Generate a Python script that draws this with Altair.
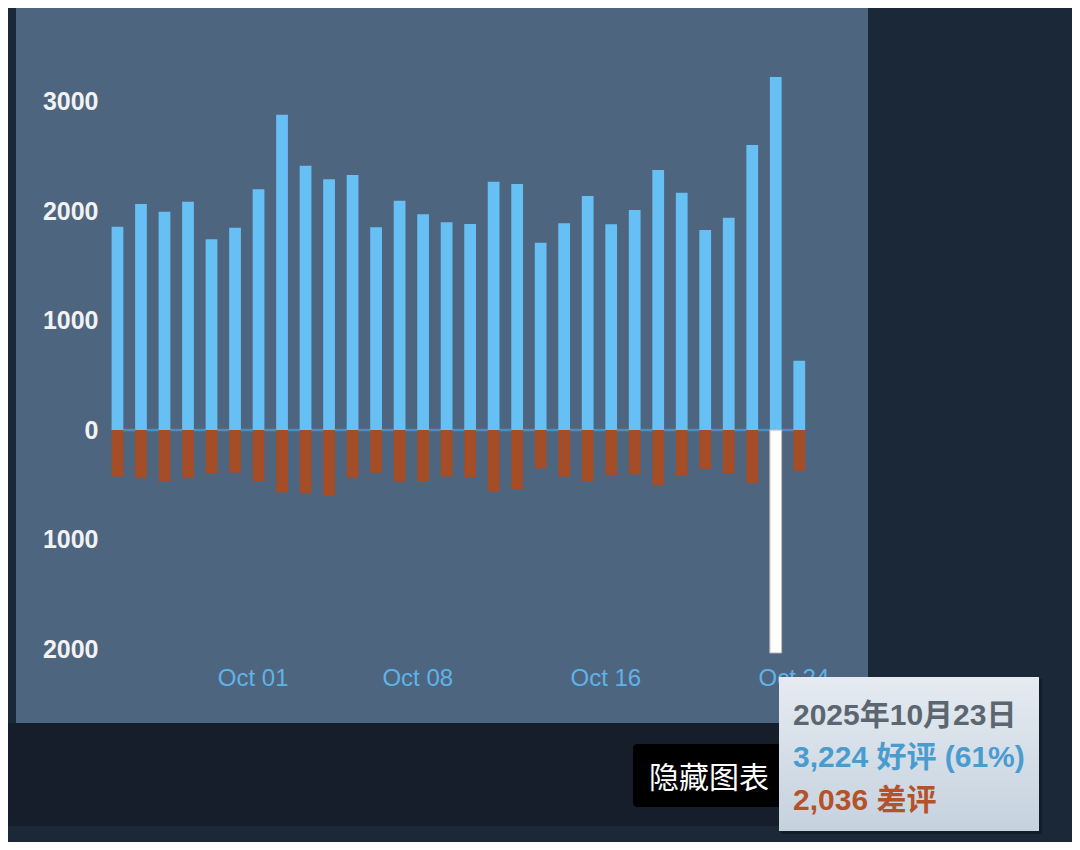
import altair as alt
import pandas as pd
from datetime import datetime, timezone, timedelta

# ---------------- data ----------------
dates = [f"2025-09-{d:02d}" for d in range(25, 31)] + [f"2025-10-{d:02d}" for d in range(1, 25)]
positive = [1857, 2064, 1994, 2085, 1741, 1848, 2198, 2880, 2414, 2289,
            2329, 1851, 2094, 1970, 1897, 1881, 2268, 2247, 1711, 1887,
            2137, 1878, 2009, 2374, 2167, 1826, 1939, 2603, 3224, 633]
negative = [426, 435, 466, 435, 396, 390, 466, 569, 578, 603,
            435, 390, 472, 475, 426, 432, 563, 539, 350, 426,
            466, 411, 405, 505, 411, 356, 396, 487, 2036, 371]
highlight_date = "2025-10-23"
tick_dates = ["2025-10-01", "2025-10-08", "2025-10-16", "2025-10-24"]
y_ticks = [-2000, -1000, 0, 1000, 2000, 3000]
tooltip_lines = ["2025年10月23日", "3,224 好评 (61%)", "2,036 差评"]
button_label = "隐藏图表"

# ---------------- table ----------------
rows = []
for d, p, n in zip(dates, positive, negative):
    s = f"{d}T00:00:00Z"
    e = f"{d}T12:00:00Z"
    rows.append({"start": s, "end": e, "value": p, "kind": "pos"})
    rows.append({"start": s, "end": e, "value": -n,
                 "kind": "hl" if d == highlight_date else "neg"})
df = pd.DataFrame(rows)
zero_df = pd.DataFrame({"start": [f"{dates[0]}T00:00:00Z"], "end": [f"{dates[-1]}T12:00:00Z"], "v": [0]})


def ms(s):
    return int(datetime.fromisoformat(s).replace(tzinfo=timezone.utc).timestamp() * 1000)


base = datetime(2025, 9, 25, tzinfo=timezone.utc)
W, H = 852, 715
px_day = 23.51
first_x = 95.6
dom_start = int((base - timedelta(days=first_x / px_day)).timestamp() * 1000)
dom_end = int((base + timedelta(days=(W - first_x) / px_day)).timestamp() * 1000)
tick_ms = [ms(t) for t in tick_dates]

zero_px = 422
ppu = 0.1095
y_dom = [-(H - zero_px) / ppu, zero_px / ppu]

FONT = "Liberation Sans, Noto Sans CJK SC"

x_enc = alt.X(
    "start:T",
    scale=alt.Scale(type="utc", domain=[dom_start, dom_end], nice=False),
    axis=alt.Axis(
        orient="bottom", offset=-59, values=tick_ms,
        labelExpr="utcFormat(datum.value, '%b %d')",
        tickSize=0, domain=False, grid=False, labelPadding=2,
        labelBaseline="top", labelColor="#5eb3e8", labelFont=FONT,
        labelFontSize=24, labelFlush=False, labelOverlap=False, title=None,
    ),
)
y_enc = alt.Y(
    "value:Q",
    scale=alt.Scale(domain=y_dom, nice=False, zero=False),
    axis=alt.Axis(
        orient="left", offset=-86, values=y_ticks, labelExpr="abs(datum.value)",
        tickSize=0, domain=False, grid=False, labelPadding=4,
        labelBaseline="middle", labelColor="#f2f2f2", labelFont=FONT,
        labelFontSize=25, labelFontWeight="bold", labelOverlap=False,
        labelFlush=False, title=None,
    ),
)

one = alt.Data(values=[{}])

band = alt.Chart(one).mark_rect(fill="#151e2a").encode(
    x=alt.value(-8), x2=alt.value(W), y=alt.value(H), y2=alt.value(818)
)
top_strip = alt.Chart(one).mark_rect(fill="#121a24").encode(
    x=alt.value(-8), x2=alt.value(1056), y=alt.value(-8), y2=alt.value(-2)
)

zero_line = alt.Chart(zero_df).mark_rule(color="#4a8ec2", strokeWidth=2.5).encode(
    x="start:T", x2="end:T", y=alt.Y("v:Q")
)

bars = alt.Chart(df).transform_filter("datum.kind != 'hl'").mark_bar().encode(
    x=x_enc, x2="end:T", y=y_enc, y2=alt.datum(0),
    color=alt.Color("kind:N", scale=alt.Scale(domain=["pos", "neg"], range=["#66c0f4", "#a44d26"]), legend=None),
)
hl = alt.Chart(df).transform_filter("datum.kind == 'hl'").mark_bar(
    color="#ffffff", stroke="#c4b8b8", strokeWidth=1
).encode(x="start:T", x2="end:T", y="value:Q", y2=alt.datum(0))

button = alt.Chart(one).mark_rect(fill="#000000", cornerRadius=4).encode(
    x=alt.value(617), x2=alt.value(790), y=alt.value(736), y2=alt.value(799)
)
button_text = alt.Chart(one).mark_text(
    align="left", baseline="middle", fontSize=30, color="#ffffff", font="Noto Sans CJK SC"
).encode(x=alt.value(633), y=alt.value(771), text=alt.value(button_label))

tip_shadow = alt.Chart(one).mark_rect(fill="#0c121a", opacity=0.5).encode(
    x=alt.value(765), x2=alt.value(1026), y=alt.value(671), y2=alt.value(826)
)
tip_box = alt.Chart(one).mark_rect(
    fill=alt.Gradient(
        gradient="linear",
        stops=[alt.GradientStop(color="#e6ebf1", offset=0), alt.GradientStop(color="#c5d2de", offset=1)],
        x1=0, x2=0, y1=0, y2=1,
    )
).encode(x=alt.value(763), x2=alt.value(1023), y=alt.value(669), y2=alt.value(823))

tip_colors = ["#5c6670", "#4a9ccf", "#b5522a"]
tip_y = [717, 759, 802]
tip_texts = [
    alt.Chart(one).mark_text(
        align="left", baseline="alphabetic", fontSize=30, fontWeight="bold", color=c, font=FONT
    ).encode(x=alt.value(777), y=alt.value(yy), text=alt.value(t))
    for t, c, yy in zip(tooltip_lines, tip_colors, tip_y)
]

chart = alt.layer(
    top_strip, band, zero_line, bars, hl, button, button_text, tip_shadow, tip_box, *tip_texts
).properties(
    width=W, height=H,
    autosize=alt.AutoSizeParams(type="none"),
    padding={"left": 8, "top": 0, "right": 1064 - 8 - W, "bottom": 834 - H},
    background="#1b2838",
).configure_view(fill="#4e6580", strokeWidth=0)

chart.save("out.html", embed_options={"renderer": "svg", "actions": False})
